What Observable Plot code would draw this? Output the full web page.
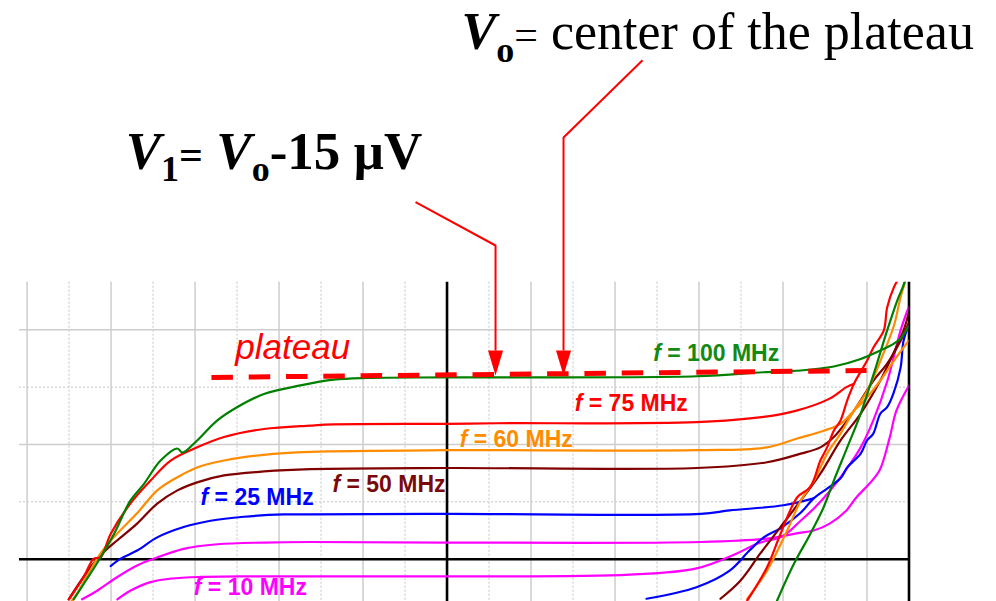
<!DOCTYPE html>
<html><head><meta charset="utf-8">
<script src="https://cdn.jsdelivr.net/npm/d3@7"></script>
<script src="https://cdn.jsdelivr.net/npm/@observablehq/plot@0.6"></script>
<style>html,body{margin:0;padding:0;background:#fff;overflow:hidden}</style>
</head><body><div id="chart"></div>
<script>
// ---- data (x in horizontal grid divisions, y in vertical grid divisions) ----
const f100Plateau = [[-8.89,-0.70],[-8.25,0.03],[-7.93,0.44],[-7.54,1.02],[-7.22,1.31],[-6.82,1.72],[-6.42,1.93],[-6.30,1.86],[-5.95,2.07],[-5.47,2.42],[-5.00,2.65],[-4.36,2.88],[-3.49,3.03],[-2.70,3.13],[-1.90,3.16],[0,3.17],[5.94,3.19],[7.53,3.26],[8.42,3.29],[9.21,3.36],[9.85,3.49],[10.32,3.64],[10.64,3.76],[10.80,3.85],[10.99,4.06]];
const f100Steep = [[7.86,-0.72],[8.26,-0.08],[8.65,0.44],[8.97,0.91],[9.21,1.37],[9.53,1.95],[9.85,2.54],[10.16,3.23],[10.48,3.99],[10.72,4.51],[10.88,4.80],[10.94,5.0]];
const f75Plateau = [[-9.00,-0.70],[-8.65,-0.31],[-8.41,0.01],[-8.25,0.03],[-8.01,0.44],[-7.54,0.97],[-7.06,1.37],[-6.58,1.72],[-5.95,1.95],[-5.31,2.13],[-4.36,2.27],[-3.25,2.33],[-2.70,2.35],[0,2.36],[1.18,2.37],[5.94,2.39],[7.54,2.48],[8.32,2.59],[9.11,2.80],[9.51,3.00],[9.69,3.06]];
const f75Steep = [[7.15,-0.72],[7.62,-0.14],[7.94,0.44],[8.34,1.08],[8.65,1.26],[8.89,1.72],[9.05,1.95],[9.21,2.24],[9.37,2.42],[9.53,2.77],[9.69,3.06],[10.00,3.46],[10.16,3.70],[10.40,3.99],[10.48,4.39],[10.64,4.74],[10.80,4.95]];
const f60Plateau = [[-8.97,-0.76],[-8.81,-0.60],[-8.25,0.10],[-7.85,0.45],[-7.38,0.80],[-6.90,1.20],[-6.42,1.43],[-5.95,1.60],[-5.31,1.72],[-4.36,1.82],[-3.25,1.87],[0,1.90],[5.94,1.90],[7.62,1.95],[8.32,2.10],[8.97,2.24],[9.37,2.36],[9.69,2.59],[10.00,2.82],[10.32,3.12],[10.64,3.46],[10.99,3.81]];
const f60Steep = [[7.15,-0.69],[7.62,-0.20],[8.10,0.50],[8.42,1.02],[8.74,1.37],[9.05,1.84],[9.37,2.19],[9.69,2.59],[10.00,2.93],[10.32,3.46],[10.64,4.07],[10.80,4.57],[10.92,4.86]];
const f50Plateau = [[-9.01,-0.70],[-8.49,-0.14],[-8.18,0.12],[-7.85,0.33],[-7.38,0.62],[-6.90,0.97],[-6.42,1.20],[-5.95,1.34],[-5.31,1.46],[-4.36,1.53],[-3.25,1.57],[0,1.59],[5.94,1.59],[7.62,1.69],[8.42,1.84],[8.89,1.95],[9.21,2.13],[9.53,2.42],[9.85,2.77],[10.16,3.12],[10.48,3.41],[10.80,3.81],[10.99,4.11]];
const f50Steep = [[6.51,-0.69],[6.99,-0.37],[7.46,0.10],[7.94,0.56],[8.42,1.02],[8.89,1.49],[9.37,2.07],[9.85,2.54],[10.32,3.12],[10.63,3.59],[10.87,3.99],[10.99,4.28]];
const f25Plateau = [[-8.01,-0.12],[-7.77,0.01],[-7.38,0.15],[-6.90,0.38],[-6.27,0.56],[-5.63,0.67],[-4.84,0.74],[-3.89,0.78],[-3.25,0.78],[0,0.79],[6.04,0.79],[6.73,0.85],[8.01,0.94],[8.73,1.06]];
const f25Steep = [[4.75,-0.69],[5.94,-0.49],[6.73,-0.20],[7.20,0.15],[7.54,0.38],[7.94,0.54],[8.42,0.81],[8.73,1.06],[9.05,1.23],[9.37,1.41],[9.53,1.60],[9.85,1.84],[10.00,2.07],[10.15,2.19],[10.32,2.54],[10.48,2.65],[10.63,2.89],[10.80,3.34],[10.87,3.81],[10.99,4.07]];
const magentaUpper = [[-8.69,-0.70],[-8.33,-0.55],[-7.85,-0.31],[-7.38,-0.11],[-6.90,0.03],[-6.27,0.18],[-5.47,0.26],[-4.36,0.29],[-3.25,0.30],[0,0.29],[6.04,0.30],[7.62,0.36],[8.32,0.45],[8.73,0.50],[9.11,0.62],[9.51,0.85],[9.75,1.08],[10.06,1.32],[10.30,1.55],[10.54,2.12],[10.70,2.59],[11.0,3.03]];
const f10 = [[-7.85,-0.70],[-7.54,-0.55],[-7.06,-0.40],[-6.58,-0.34],[-5.87,-0.31],[-4.68,-0.30],[-3.25,-0.30],[0,-0.30],[4.35,-0.27],[5.94,-0.16],[6.90,0.10],[7.38,0.27],[8.01,0.41],[8.42,0.67],[8.73,0.88],[9.06,1.14],[9.54,1.60],[9.85,1.95],[10.15,2.42],[10.49,3.12],[10.80,3.99],[10.99,4.39]];

const seriesColors = {f10:"#ff00ff", magentaUpper:"#ff00ff", f25:"#0000ff", f50:"#800000", f60:"#ff8c00", f75:"#ff0000", f100:"#008000"};

// frequency labels
const freqLabels = ["f = 100 MHz","f = 75 MHz","f = 60 MHz","f = 50 MHz","f = 25 MHz","f = 10 MHz"];
const freqLabelKeys = ["f100","f75","f60","f50","f25","f10"];
const freqLabelX = [4.91, 3.04, 0.30, -2.73, -5.87, -6.03];
const freqLabelY = [3.45, 2.58, 1.95, 1.17, 0.95, -0.63];
const labelColors = {f100:"#138a13", f75:"#ff0000", f60:"#ff8c00", f50:"#7a0a0a", f25:"#0000ff", f10:"#ff00ff"};

// plateau marker (dashed) and annotations
const plateauLine = [[-5.61,3.17],[9.99,3.29]];
const plateauWord = {text:"plateau", x:-5.04, y:3.49};
const arrowV1 = [[-0.75,6.225],[1.155,5.470],[1.155,3.64]];
const arrowVo = [[4.655,8.70],[2.774,7.353],[2.774,3.64]];
const arrowHeadV1 = [[0.976,3.639],[1.334,3.639],[1.155,3.203]];
const arrowHeadVo = [[2.595,3.639],[2.953,3.639],[2.774,3.203]];
const titleTexts = ["V1= Vo-15 µV", "Vo= center of the plateau"];
const titleX = [-7.65, 0.345];
const titleY = [6.81, 8.905];

// grid
const solidX = [-10,-8,-6,-4,-2,2,4,6,8,10];
const dottedX = [-9,-7,-5,-3,-1,1,3,5,7,9];
const axisX = [0, 11];
const solidY = [2, 4];
const dottedY = [1, 3];
const axisY = [0];

// ---- build tables ----
const curves = [
  ["magentaUpper", magentaUpper], ["f10", f10],
  ["f25", f25Plateau], ["f25s", f25Steep],
  ["f50", f50Plateau], ["f50s", f50Steep],
  ["f60", f60Plateau], ["f60s", f60Steep],
  ["f75", f75Plateau], ["f75s", f75Steep],
  ["f100", f100Plateau], ["f100s", f100Steep]
];
const curveRows = curves.flatMap(([id, pts]) => pts.map(([u, v]) => ({id, u, v, color: seriesColors[id.replace(/s$/, "")]})));
const labelRows = freqLabels.map((t, i) => ({t, u: freqLabelX[i], v: freqLabelY[i], color: labelColors[freqLabelKeys[i]]}));
const arrowRows = [["a1", arrowV1], ["a2", arrowVo]].flatMap(([id, p]) => p.map(([u, v]) => ({id, u, v})));
const headRows = [["h1", arrowHeadV1], ["h2", arrowHeadVo]].flatMap(([id, p]) => p.map(([u, v]) => ({id, u, v})));
const titleRows = titleTexts.map((t, i) => ({t, u: titleX[i], v: titleY[i], size: i === 0 ? 53 : 52}));

const svg = Plot.plot({
  width: 996, height: 601,
  marginTop: 281.7, marginBottom: 0, marginLeft: 19, marginRight: 87.5,
  x: {domain: [-10.18, 11], axis: null},
  y: {domain: [-0.738, 4.83], axis: null},
  color: {type: "identity"},
  style: {background: "white", overflow: "visible"},
  marks: [
    Plot.ruleX(dottedX, {stroke: "#c4c4c4", strokeWidth: 1, strokeDasharray: "2,2"}),
    Plot.ruleY(dottedY, {stroke: "#c4c4c4", strokeWidth: 1, strokeDasharray: "2,2"}),
    Plot.ruleX(solidX, {stroke: "#cdcdcd", strokeWidth: 1.5}),
    Plot.ruleY(solidY, {stroke: "#cdcdcd", strokeWidth: 1.5}),
    Plot.ruleX(axisX, {stroke: "black", strokeWidth: 2.6}),
    Plot.ruleY(axisY, {stroke: "black", strokeWidth: 2.6}),
    Plot.line(curveRows, {x: "u", y: "v", z: "id", stroke: "color", strokeWidth: 2.2, curve: "catmull-rom", clip: true}),
    Plot.line(plateauLine, {x: d => d[0], y: d => d[1], stroke: "#ff0000", strokeWidth: 5, strokeDasharray: "21.5,15.8", strokeLinecap: "butt"}),
    Plot.line(arrowRows, {x: "u", y: "v", z: "id", stroke: "#ff0000", strokeWidth: 2, strokeLinecap: "butt", strokeLinejoin: "miter"}),
    Plot.line(headRows, {x: "u", y: "v", z: "id", fill: "#ff0000", stroke: "none"}),
    Plot.text([plateauWord], {x: "x", y: "y", text: "text", fill: "#ff0000", fontSize: 35, fontStyle: "italic", fontFamily: "Liberation Sans", textAnchor: "start", lineAnchor: "bottom"}),
    Plot.text(labelRows, {x: "u", y: "v", text: "t", fill: "color", fontSize: 23, fontWeight: "bold", fontFamily: "Liberation Sans", textAnchor: "start", lineAnchor: "bottom"}),
    Plot.text(titleRows, {x: "u", y: "v", text: "t", fill: "black", fontSize: "size", fontWeight: "bold", fontFamily: "Liberation Serif", textAnchor: "start", lineAnchor: "bottom"})
  ]
});

// rich text (italic variables, subscripts)
const rich = {
  "V1= Vo-15 µV": [
    {t: "V", style: "italic"}, {t: "1", size: 36, dy: 12}, {t: "=", size: 42, dy: -12},
    {t: " V", style: "italic"}, {t: "o", size: 36, dy: 12}, {t: "-15 µV", dy: -12}
  ],
  "Vo= center of the plateau": [
    {t: "V", style: "italic"}, {t: "o", size: 36, dy: 13}, {t: "=", size: 42, weight: "normal", dy: -13},
    {t: " center of the plateau", weight: "normal"}
  ]
};
d3.select(svg).selectAll("text").each(function() {
  const s = this.textContent;
  let parts = rich[s];
  if (!parts && s.startsWith("f = ")) parts = [{t: "f", style: "italic"}, {t: s.slice(1)}];
  if (!parts) return;
  const el = d3.select(this).style("white-space", "pre");
  el.text(null);
  for (const p of parts) {
    const ts = el.append("tspan").text(p.t);
    if (p.style) ts.attr("font-style", p.style);
    if (p.size) ts.attr("font-size", p.size);
    if (p.weight) ts.attr("font-weight", p.weight);
    if (p.dy) ts.attr("dy", p.dy);
  }
});

document.getElementById("chart").appendChild(svg);
</script></body></html>
